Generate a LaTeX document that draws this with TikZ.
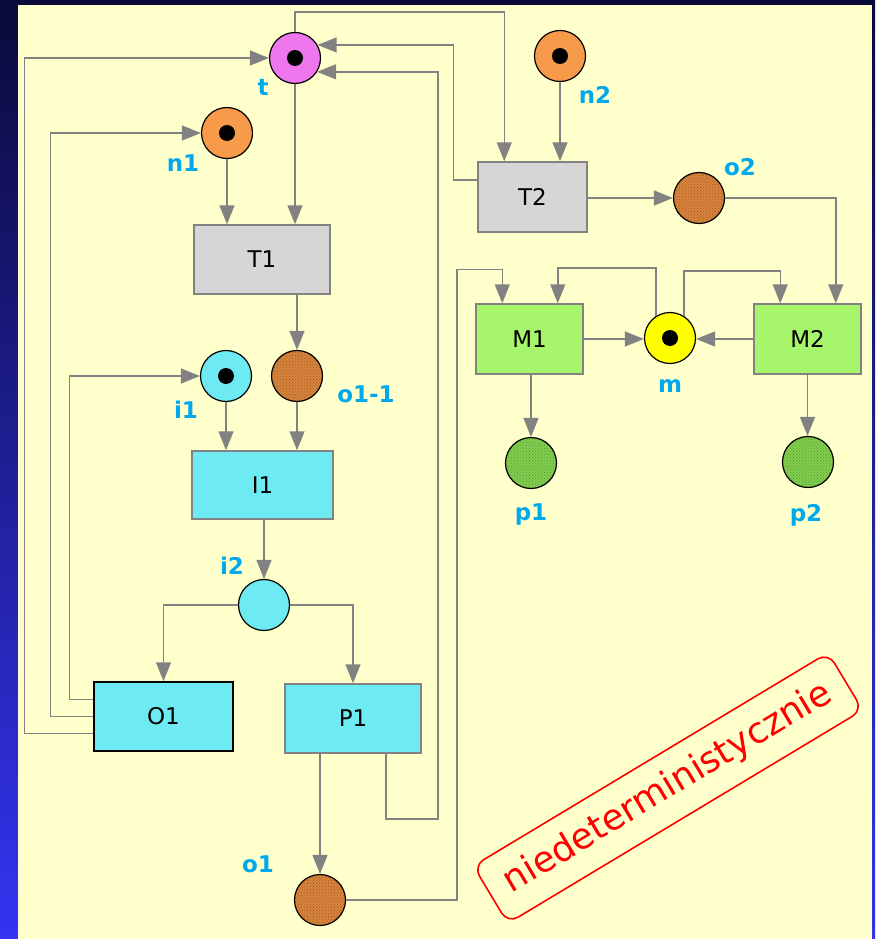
\documentclass[tikz,border=0pt]{standalone}
\usepackage{fontspec}
\setmainfont{DejaVu Sans}
\usetikzlibrary{arrows.meta,calc,patterns}
\definecolor{panel}{HTML}{FFFFCC}
\definecolor{lgray}{HTML}{828282}
\definecolor{lblue}{HTML}{00A8EC}
\definecolor{cmag}{HTML}{EE77EE}
\definecolor{corange}{HTML}{F79A4A}
\definecolor{cbrown}{HTML}{D6833D}
\definecolor{cbrowndk}{HTML}{A85A1A}
\definecolor{ccyan}{HTML}{6EEAF2}
\definecolor{cyel}{HTML}{FFFF00}
\definecolor{cgreen}{HTML}{A6F56A}
\definecolor{cpgreen}{HTML}{82CC50}
\definecolor{cpgreendk}{HTML}{55A030}
\definecolor{cboxgray}{HTML}{D6D6D6}
\definecolor{navytop}{HTML}{0A0A3A}
\definecolor{bluebot}{HTML}{3434F2}
\tikzset{
  place/.style={circle, draw=black, line width=1.2pt, minimum size=51pt, inner sep=0pt},
  brownplace/.style={place, preaction={fill=cbrown}, pattern=crosshatch dots, pattern color=cbrowndk},
  greenplace/.style={place, preaction={fill=cpgreen}, pattern=crosshatch dots, pattern color=cpgreendk},
  trans/.style={rectangle, draw=lgray, line width=1.5pt, inner sep=0pt, font=\fontsize{23}{23}\selectfont},
  arr/.style={draw=lgray, line width=1.5pt, -{Triangle[length=19pt,width=15pt]}},
  lbl/.style={text=lblue, font=\bfseries\fontsize{23}{23}\selectfont, inner sep=0pt},
  token/.style={circle, fill=black, minimum size=16pt, inner sep=0pt},
}
\begin{document}
\begin{tikzpicture}[x=1pt,y=-1pt]
\useasboundingbox (0,0) rectangle (875,939);
\shade[top color=navytop, bottom color=bluebot] (0,0) rectangle (875,939);
\fill[panel] (18,5) rectangle (872,939);

% places
\node[place, fill=cmag] (t) at (295,58) {};
\node[place, fill=corange] (n1) at (227,133) {};
\node[place, fill=corange] (n2) at (560,56) {};
\node[brownplace] (o2) at (699,198) {};
\node[place, fill=ccyan] (i1) at (226,376) {};
\node[brownplace] (o11) at (297,376) {};
\node[place, fill=ccyan] (i2) at (264,605) {};
\node[brownplace] (o1) at (320,900) {};
\node[place, fill=cyel] (m) at (670,338) {};
\node[greenplace] (p1) at (531,463) {};
\node[greenplace] (p2) at (808,462) {};

% tokens
\node[token] (tk1) at (t) {};
\node[token] (tk2) at (n1) {};
\node[token] (tk3) at (n2) {};
\node[token] (tk4) at (i1) {};
\node[token] (tk5) at (m) {};

% transitions
\node[trans, fill=cboxgray, minimum width=136pt, minimum height=69pt] (T1) at (262,259.5) {T1};
\node[trans, fill=cboxgray, minimum width=109pt, minimum height=70pt] (T2) at (532.5,197) {T2};
\node[trans, fill=ccyan, minimum width=141pt, minimum height=68pt] (I1) at (262.5,485) {I1};
\node[trans, fill=ccyan, draw=black, minimum width=139pt, minimum height=69pt] (O1) at (163.5,716.5) {O1};
\node[trans, fill=ccyan, minimum width=136pt, minimum height=69pt] (P1) at (353,718.5) {P1};
\node[trans, fill=cgreen, minimum width=107pt, minimum height=70pt] (M1) at (529.5,339) {M1};
\node[trans, fill=cgreen, minimum width=107pt, minimum height=70pt] (M2) at (807.5,339) {M2};

% labels
\node[lbl] (lt) at (263,87) {t};
\node[lbl] (ln1) at (183,163) {n1};
\node[lbl] (ln2) at (595,95) {n2};
\node[lbl] (lo2) at (740,167) {o2};
\node[lbl] (li1) at (186,410) {i1};
\node[lbl] (lo11) at (366,394) {o1-1};
\node[lbl] (li2) at (232,566) {i2};
\node[lbl] (lo1) at (258,864) {o1};
\node[lbl] (lm) at (670,386) {m};
\node[lbl] (lp1) at (531,515) {p1};
\node[lbl] (lp2) at (806,515) {p2};

% connectors
\draw[arr] (t.south) -- (t.south |- T1.north);
\draw[arr] (n1.south) -- (n1.south |- T1.north);
\draw[arr] (T1.south -| o11) -- (o11.north);
\draw[arr] (i1.south) -- (i1.south |- I1.north);
\draw[arr] (o11.south) -- (o11.south |- I1.north);
\draw[arr] (I1.south -| i2) -- (i2.north);
\draw[arr] (i2.west) -| (O1.north);
\draw[arr] (i2.east) -| (P1.north);
\draw[arr] ([yshift=17pt]O1.west) -- ++(-24,0) |- (i1.west);
\draw[arr] (O1.west) -- ++(-43,0) |- (n1.west);
\draw[arr] ([yshift=-17pt]O1.west) -- ++(-69,0) |- (t.west);
\draw[arr] (P1.south -| o1) -- (o1.north);
\draw[arr] ([xshift=33pt]P1.south) -- ++(0,65) -- ++(52,0) |- (t.-32);
\draw[arr] ([yshift=17pt]T2.west) -- ++(-24,0) |- (t.30);
\draw[arr] (t.north) -- ++(0,-20) -| ([xshift=27pt]T2.north west);
\draw[arr] (n2.south) -- (n2.south |- T2.north);
\draw[arr] (T2.east |- o2) -- (o2.west);
\draw[arr] (o2.east) -| ([xshift=-26pt]M2.north east);
\draw[arr] (o1.east) -- ++(111,0) |- ([xshift=27pt,yshift=34pt]M1.north west) -- ([xshift=27pt]M1.north west);
\draw[arr] (m.122) -- ++(0,-48) -| ([xshift=-26pt]M1.north east);
\draw[arr] (m.58) -- ++(0,-45) -| ([xshift=27pt]M2.north west);
\draw[arr] (M1.east) -- (M1.east -| m.west);
\draw[arr] (M2.west) -- (M2.west -| m.east);
\draw[arr] (M1.south -| p1) -- (p1.north);
\draw[arr] (M2.south) -- (M2.south |- p2.north);

% stamp
\node[draw=red, line width=1.6pt, rounded corners=12pt, rotate=31, minimum width=414pt, minimum height=67pt, text=red, inner sep=0pt, font=\fontsize{36}{36}\selectfont] (stamp) at (668,788) {niedeterministycznie};
\end{tikzpicture}
\end{document}
